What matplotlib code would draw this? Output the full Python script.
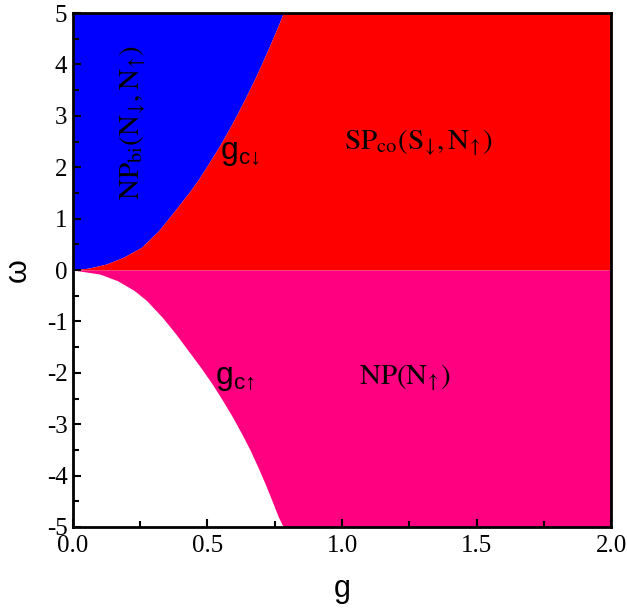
import numpy as np
import matplotlib
matplotlib.use("Agg")
import matplotlib.pyplot as plt

# Boundary g_c(down) for omega > 0
omega_down = [0.0, 0.04, 0.117, 0.245, 0.44, 0.763, 1.087, 1.50, 1.76, 2.08, 2.41,
              2.73, 3.05, 3.38, 3.70, 4.03, 4.35, 4.67, 5.0]
g_down = [0.0, 0.062, 0.124, 0.186, 0.254, 0.318, 0.368, 0.430, 0.466, 0.505, 0.544,
          0.579, 0.612, 0.644, 0.674, 0.703, 0.730, 0.756, 0.782]

# Boundary g_c(up) for omega < 0
omega_up = [0.0, -0.078, -0.207, -0.40, -0.596, -0.92, -1.243, -1.567, -1.89, -2.214,
            -2.537, -2.86, -3.184, -3.51, -3.83, -4.155, -4.48, -4.80, -5.0]
g_up = [0.0, 0.099, 0.165, 0.228, 0.274, 0.332, 0.382, 0.428, 0.474, 0.517,
        0.556, 0.593, 0.627, 0.659, 0.687, 0.714, 0.739, 0.763, 0.782]

g_min, g_max = 0.0, 2.0
w_min, w_max = -5.0, 5.0

c_blue = "#0000FF"
c_red = "#FF0000"
c_pink = "#FF0080"

plt.rcParams['mathtext.fontset'] = 'custom'
plt.rcParams['mathtext.rm'] = 'Liberation Sans'
plt.rcParams['mathtext.it'] = 'Liberation Sans'

fig = plt.figure(figsize=(6.27, 6.14), dpi=100)
ax = fig.add_axes([0.1164, 0.1417, 0.8581, 0.8371])

# upper half
ax.fill_betweenx(omega_down, g_min, g_down, color=c_blue, lw=0)
ax.fill_betweenx(omega_down, g_down, g_max, color=c_red, lw=0)
# lower half
ax.fill_betweenx(omega_up, g_up, g_max, color=c_pink, lw=0)

ax.set_xlim(g_min, g_max)
ax.set_ylim(w_min, w_max)

ax.set_xticks([0.0, 0.5, 1.0, 1.5, 2.0])
ax.set_xticks([0.25, 0.75, 1.25, 1.75], minor=True)
ax.set_xticklabels(["0.0", "0.5", "1.0", "1.5", "2.0"])
ax.set_yticks([-5, -4, -3, -2, -1, 0, 1, 2, 3, 4, 5])
ax.set_yticks(np.arange(-4.5, 5, 1.0), minor=True)
ax.set_yticklabels(["-5", "-4", "-3", "-2", "-1", "0", "1", "2", "3", "4", "5"])
ax.tick_params(which='both', direction='in', top=False, right=False, width=1.5)
ax.tick_params(which='major', length=6, labelsize=18)
ax.tick_params(axis='x', which='major', pad=6)
ax.tick_params(axis='y', which='major', pad=4)
ax.tick_params(which='minor', length=4)
for lab in ax.get_xticklabels() + ax.get_yticklabels():
    lab.set_fontfamily('Liberation Serif')
for sp in ax.spines.values():
    sp.set_linewidth(2.0)
    sp.set_zorder(5)

ax.set_xlabel("g", fontfamily='Liberation Sans', fontsize=22, labelpad=12)
ax.set_ylabel("ω", fontfamily='Liberation Sans', fontsize=22, labelpad=10)

dn = r'\!\downarrow\!'
up = r'\!\uparrow\!'
ax.text(0.223, 2.86, r'$\mathrm{NP}_{\mathrm{bi}}(\mathrm{N}_{' + dn + r'},\mathrm{N}_{' + up + r'})$',
        rotation=90, ha='center', va='center', fontsize=21, math_fontfamily='stix')
ax.text(1.283, 2.35, r'$\mathrm{SP}_{\mathrm{co}}(\mathrm{S}_{' + dn + r'},\mathrm{N}_{' + up + r'})$',
        ha='center', va='baseline', fontsize=21, math_fontfamily='stix')
ax.text(1.234, -2.21, r'$\mathrm{NP}(\mathrm{N}_{' + up + r'})$',
        ha='center', va='baseline', fontsize=21, math_fontfamily='stix')
ax.text(0.547, 2.155, r'$\mathrm{g}_{\mathrm{c}' + dn + r'}$',
        ha='left', va='baseline', fontsize=23)
ax.text(0.528, -2.21, r'$\mathrm{g}_{\mathrm{c}' + up + r'}$',
        ha='left', va='baseline', fontsize=23)

fig.savefig("out.png", dpi=100)
